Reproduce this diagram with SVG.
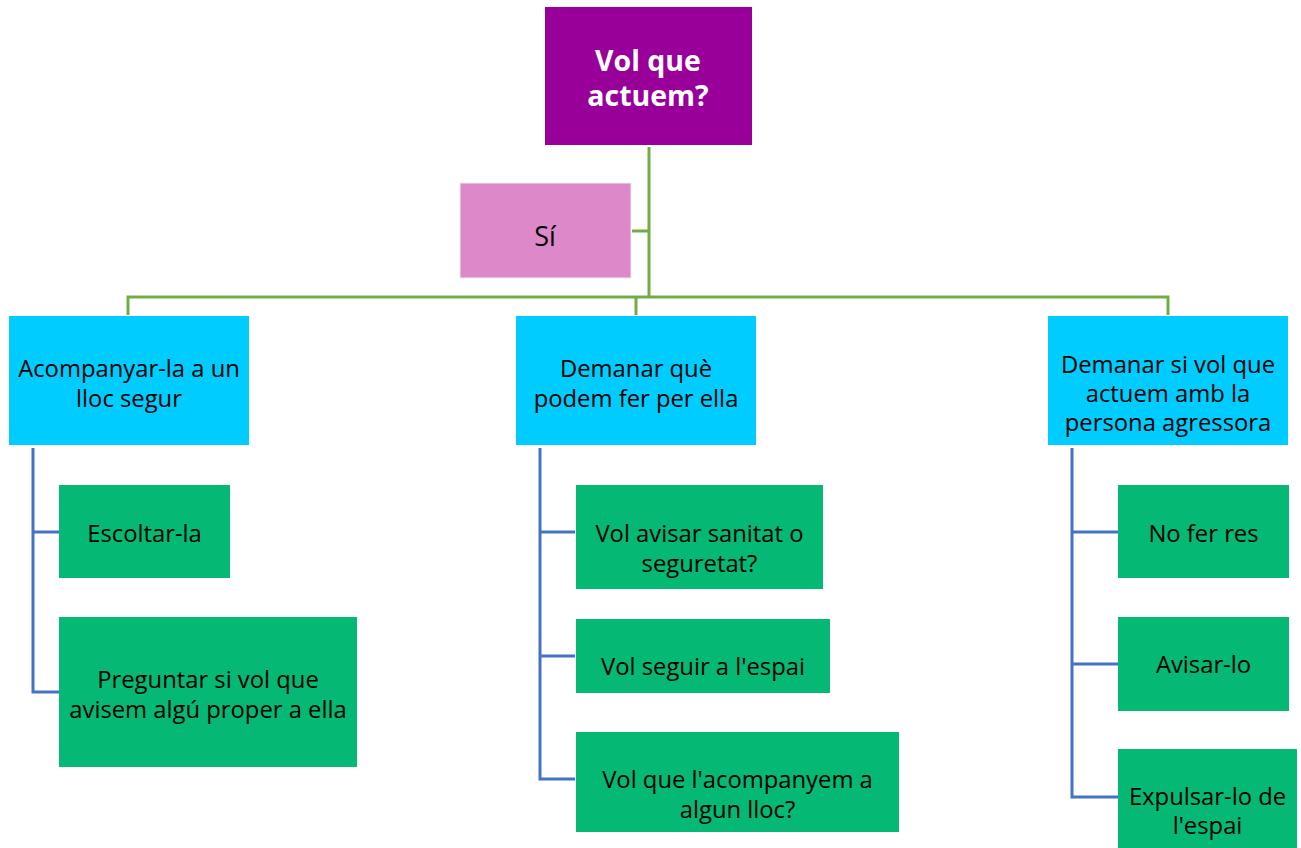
<svg xmlns="http://www.w3.org/2000/svg" width="1301" height="848" viewBox="0 0 1301 848">
<style>
text{font-family:"Open Sans","Noto Sans","Liberation Sans",sans-serif;font-size:23.8px;fill:#000;text-anchor:middle}
.top text{fill:#fff;font-weight:bold;font-size:28.5px}
.g{fill:none;stroke:#70AD47;stroke-width:3}
.b{fill:none;stroke:#4472C4;stroke-width:3}
.cyan{fill:#00CCFF}
.grn{fill:#05B874}
</style>
<rect width="1301" height="848" fill="#fff"/>
<g id="connectors">
<path class="g" d="M649 147V296M632 231H649M128 315V297H1168V315M636 297V315"/>
<path class="b" d="M33 448V692H59M33 532H59"/>
<path class="b" d="M540 448V779H575M540 532H575M540 656H575"/>
<path class="b" d="M1072 448V797H1118M1072 532H1118M1072 664H1118"/>
</g>
<g id="n-top" class="top"><rect x="545" y="7" width="207" height="138" fill="#990099"/><text x="648" y="71">Vol que</text><text x="648" y="106">actuem?</text></g>
<g id="n-si"><rect x="460" y="183" width="171" height="95" fill="#DD88C8" stroke="#eee" stroke-width="1"/><text x="545" y="246" style="font-size:27px">Sí</text></g>
<g id="n-a"><rect class="cyan" x="9" y="316" width="240" height="129"/><text x="129" y="377">Acompanyar-la a un</text><text x="129" y="407">lloc segur</text></g>
<g id="n-b"><rect class="cyan" x="516" y="316" width="240" height="129"/><text x="636" y="377">Demanar què</text><text x="636" y="407">podem fer per ella</text></g>
<g id="n-c"><rect class="cyan" x="1048" y="316" width="240" height="129"/><text x="1168" y="373">Demanar si vol que</text><text x="1168" y="402">actuem amb la</text><text x="1168" y="431">persona agressora</text></g>
<g id="n-a1"><rect class="grn" x="59" y="485" width="171" height="93"/><text x="144.5" y="542">Escoltar-la</text></g>
<g id="n-a2"><rect class="grn" x="59" y="617" width="298" height="150"/><text x="208" y="688">Preguntar si vol que</text><text x="208" y="718">avisem algú proper a ella</text></g>
<g id="n-b1"><rect class="grn" x="576" y="485" width="247" height="104"/><text x="699.5" y="542">Vol avisar sanitat o</text><text x="699.5" y="572">seguretat?</text></g>
<g id="n-b2"><rect class="grn" x="576" y="619" width="254" height="74"/><text x="703" y="675">Vol seguir a l'espai</text></g>
<g id="n-b3"><rect class="grn" x="576" y="732" width="323" height="100"/><text x="737.5" y="788">Vol que l'acompanyem a</text><text x="737.5" y="818">algun lloc?</text></g>
<g id="n-c1"><rect class="grn" x="1118" y="485" width="171" height="93"/><text x="1203.5" y="542">No fer res</text></g>
<g id="n-c2"><rect class="grn" x="1118" y="617" width="171" height="94"/><text x="1203.5" y="673">Avisar-lo</text></g>
<g id="n-c3"><rect class="grn" x="1118" y="749" width="179" height="99"/><text x="1207.5" y="805">Expulsar-lo de</text><text x="1207.5" y="834">l'espai</text></g>
</svg>
